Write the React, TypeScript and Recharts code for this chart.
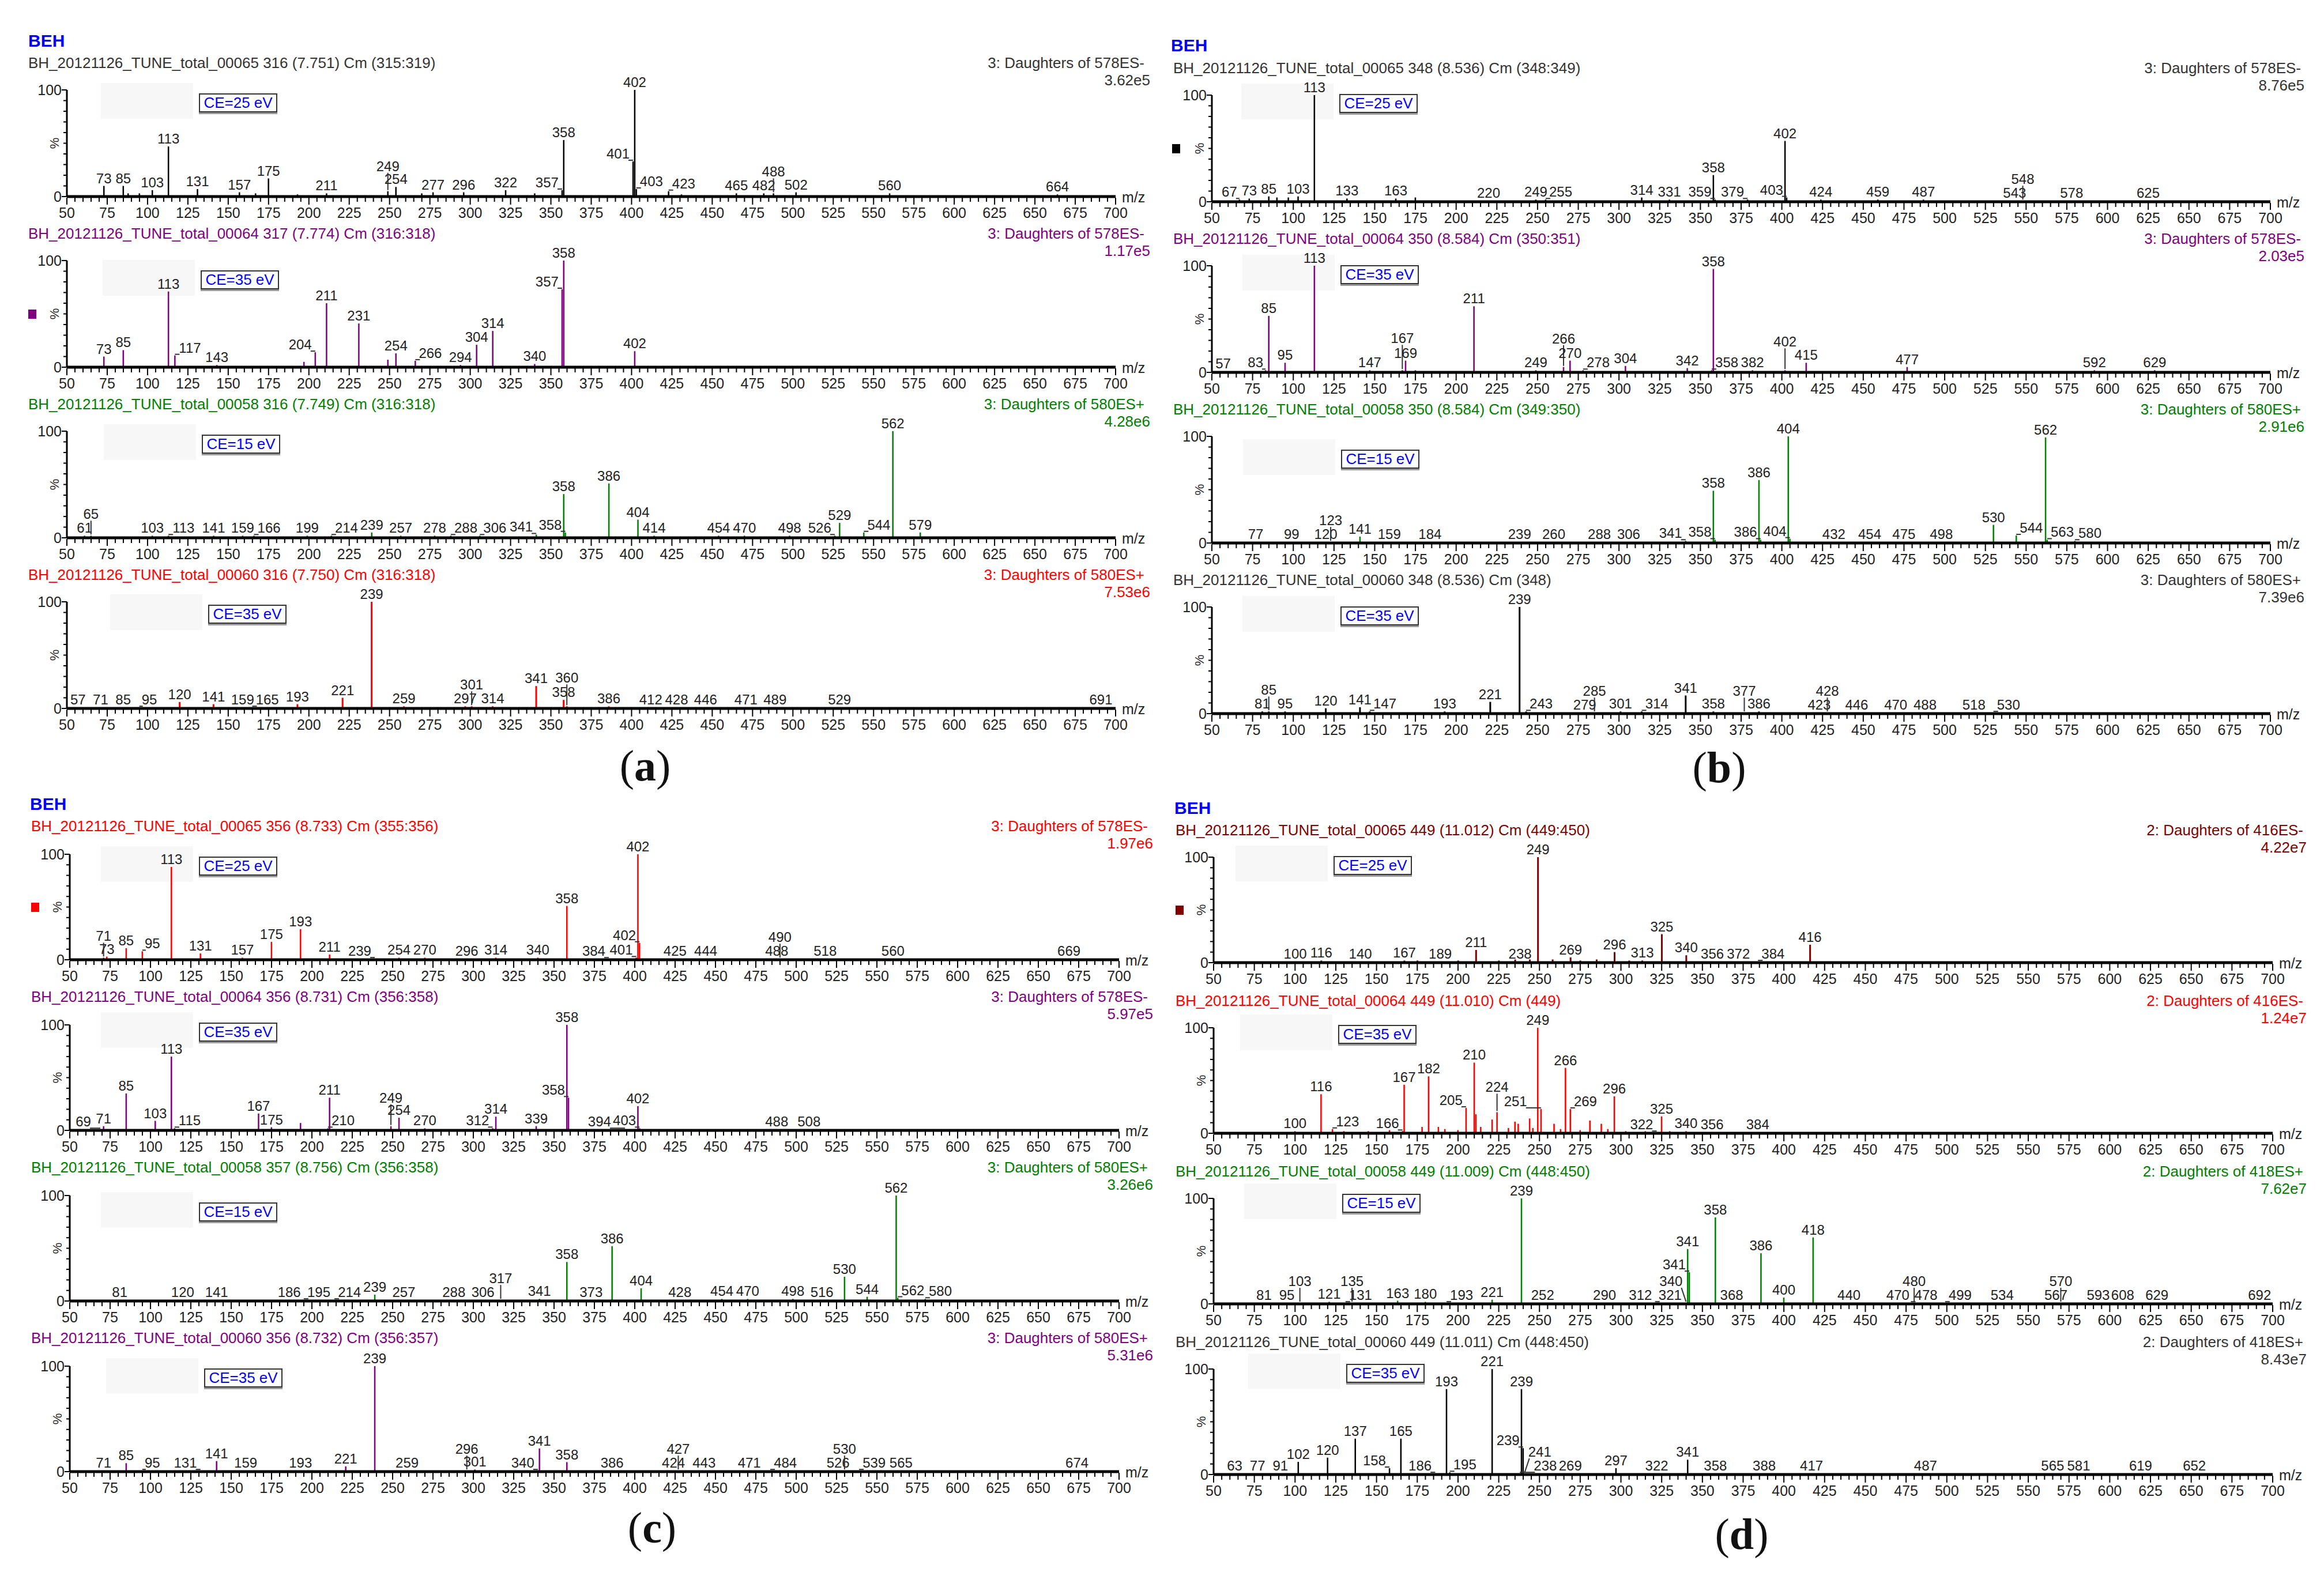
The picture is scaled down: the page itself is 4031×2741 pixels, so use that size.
import React from "react";
import { BarChart, Bar, XAxis, YAxis, LabelList } from "recharts";

// [m/z, relative intensity %, optional label ('' = unlabeled)]
type Peak = [number, number, string?];

const PEAKS_A1: Peak[] = [
  [73, 10], [85, 10], [88, 3, ""], [95, 3, ""], [103, 6], [113, 47], [131, 7], [157, 4], [167, 3, ""], [175, 17],
  [193, 2, ""], [211, 3], [249, 5], [254, 9], [270, 3, ""], [277, 4], [296, 4], [322, 6], [340, 3, ""], [357, 6],
  [358, 53], [401, 33], [402, 100], [403, 7], [423, 5], [431, 2, ""], [465, 3], [482, 3], [488, 3], [502, 4],
  [560, 3], [664, 2],
];
const PEAKS_A2: Peak[] = [
  [73, 10], [85, 16], [113, 71], [117, 11], [143, 2], [197, 5, ""], [204, 14], [211, 60], [231, 41], [249, 7, ""],
  [254, 13], [266, 6], [294, 2], [304, 21], [314, 34], [340, 3], [357, 73], [358, 100], [402, 15],
];
const PEAKS_A3: Peak[] = [
  [61, 2], [65, 2], [103, 2], [113, 2], [141, 2], [159, 2], [166, 2], [199, 2], [214, 2], [239, 5], [257, 2],
  [278, 2], [288, 2], [306, 2], [341, 3], [358, 41], [359, 5, "358"], [386, 51], [404, 17], [414, 2], [454, 2],
  [470, 2], [498, 2], [526, 2], [529, 14], [544, 5], [562, 100], [579, 5],
];
const PEAKS_A4: Peak[] = [
  [57, 1], [71, 1], [85, 1], [95, 1], [120, 6], [141, 4], [159, 1], [165, 1], [193, 4], [221, 10], [239, 100],
  [259, 2], [297, 2], [301, 2], [314, 2], [341, 21], [358, 8], [360, 2], [386, 2], [412, 1], [428, 1], [446, 1],
  [471, 1], [489, 1], [529, 1], [691, 1],
];

const PEAKS_B1: Peak[] = [
  [67, 2], [73, 3], [85, 5], [90, 4, ""], [97, 4, ""], [103, 5], [113, 100], [133, 3], [163, 3], [175, 4, ""],
  [220, 1], [249, 2], [255, 2], [314, 4], [331, 2], [358, 25], [359, 2], [379, 2], [402, 57], [403, 4], [424, 2],
  [459, 2], [487, 2], [543, 1], [548, 1], [578, 1], [625, 1],
];
const PEAKS_B2: Peak[] = [
  [57, 1], [83, 2], [85, 53], [95, 9], [113, 100], [147, 2], [167, 2], [169, 11], [175, 2, ""], [211, 62],
  [249, 2], [266, 5], [270, 11], [278, 2], [304, 6], [342, 4], [357, 2, "358"], [358, 97], [382, 2], [402, 2],
  [415, 9], [477, 5], [592, 2], [629, 2],
];
const PEAKS_B3: Peak[] = [
  [77, 1], [99, 1], [120, 1], [123, 1], [141, 6], [159, 1], [184, 1], [239, 1], [260, 1], [288, 1], [306, 1],
  [341, 2], [358, 49], [359, 3, "358"], [386, 59], [387, 3, "386"], [404, 100], [405, 4, "404"], [432, 1],
  [454, 1], [475, 1], [498, 1], [530, 17], [544, 7], [562, 99], [563, 3], [580, 2],
];
const PEAKS_B4: Peak[] = [
  [81, 2], [85, 2], [95, 2], [120, 5], [141, 6], [147, 2], [193, 2], [221, 11], [239, 100], [243, 2], [279, 1],
  [285, 1], [301, 2], [314, 2], [341, 17], [358, 2], [377, 1], [386, 2], [423, 1], [428, 1], [446, 1], [470, 1],
  [488, 1], [518, 1], [530, 1],
];

const PEAKS_C1: Peak[] = [
  [71, 2], [73, 3], [85, 11], [95, 8], [113, 88], [131, 6], [157, 2], [175, 17], [193, 29], [211, 5], [239, 1],
  [254, 2], [270, 2], [296, 1], [314, 2], [340, 2], [358, 51], [384, 1], [401, 2], [402, 100], [403, 16, "402"],
  [425, 1], [444, 1], [488, 1], [490, 1], [518, 1], [560, 1], [669, 1],
];
const PEAKS_C2: Peak[] = [
  [69, 1], [71, 4], [85, 35], [103, 9], [113, 70], [115, 2], [167, 16], [175, 3], [193, 7, ""], [210, 2],
  [211, 31], [249, 4], [254, 12], [270, 2], [312, 2], [314, 13], [339, 4], [358, 100], [359, 31, "358"],
  [394, 1], [402, 23], [403, 2], [488, 1], [508, 1],
];
const PEAKS_C3: Peak[] = [
  [81, 1], [120, 1], [141, 1], [186, 1], [195, 1], [214, 1], [239, 6], [257, 1], [288, 1], [306, 1], [317, 1],
  [341, 2], [358, 37], [373, 1], [386, 52], [404, 12], [428, 1], [454, 2], [470, 2], [498, 2], [516, 1],
  [530, 23], [544, 4], [562, 100], [563, 3, "562"], [580, 2],
];
const PEAKS_C4: Peak[] = [
  [71, 1], [85, 8], [95, 1], [131, 1], [141, 10], [159, 1], [193, 1], [221, 5], [239, 100], [259, 1], [296, 1],
  [301, 2], [340, 1], [341, 22], [358, 9], [386, 1], [424, 1], [427, 1], [443, 1], [471, 1], [484, 1], [526, 1],
  [530, 1], [539, 1], [565, 1], [674, 1],
];

const PEAKS_D1: Peak[] = [
  [100, 1], [116, 2], [140, 1], [167, 2], [175, 2, ""], [189, 1], [200, 2, ""], [211, 12], [225, 2, ""],
  [235, 3, ""], [238, 1], [244, 3, ""], [249, 100], [258, 3, ""], [269, 5], [275, 2, ""], [285, 3, ""], [296, 10],
  [305, 2, ""], [313, 2], [325, 27], [340, 7], [356, 1], [372, 1], [384, 1], [416, 17],
];
const PEAKS_D2: Peak[] = [
  [100, 2], [116, 37], [123, 4], [130, 2, ""], [145, 2, ""], [158, 3, ""], [166, 2], [167, 46], [178, 6, ""],
  [182, 54], [188, 6, ""], [192, 4, ""], [200, 3, ""], [205, 24], [210, 67], [211, 18, ""], [214, 6, ""],
  [221, 13, ""], [224, 20], [231, 5, ""], [235, 11, ""], [237, 9, ""], [244, 14, ""], [246, 5, ""], [249, 100],
  [251, 23], [259, 9, ""], [263, 4, ""], [266, 62], [269, 23], [275, 3, ""], [281, 12, ""], [288, 9, ""],
  [292, 4, ""], [296, 35], [303, 2, ""], [315, 2, ""], [322, 1], [325, 16], [330, 2, ""], [340, 2], [356, 1],
  [384, 1],
];
const PEAKS_D3: Peak[] = [
  [81, 1], [95, 1], [103, 1], [121, 2], [131, 1], [135, 1], [163, 3], [180, 2], [193, 1], [221, 4], [239, 100],
  [252, 1], [290, 1], [312, 1], [321, 1], [340, 1], [341, 52], [342, 30, "341"], [358, 82], [368, 1], [386, 48],
  [400, 6], [418, 63], [440, 1], [470, 1], [478, 1], [480, 1], [499, 1], [534, 1], [567, 1], [570, 1], [593, 1],
  [608, 1], [629, 1], [692, 1],
];
const PEAKS_D4: Peak[] = [
  [63, 1], [77, 1], [91, 1], [102, 12], [120, 16], [137, 34], [158, 6], [165, 34], [186, 1], [193, 81], [195, 2],
  [221, 100], [238, 1], [239, 81], [240, 25, "239"], [241, 1], [269, 1], [297, 6], [322, 1], [341, 14], [358, 1],
  [388, 1], [417, 1], [487, 1], [565, 1], [581, 1], [619, 1], [652, 1],
];

const FILES_A = [
  "BH_20121126_TUNE_total_00065 316 (7.751) Cm (315:319)",
  "BH_20121126_TUNE_total_00064 317 (7.774) Cm (316:318)",
  "BH_20121126_TUNE_total_00058 316 (7.749) Cm (316:318)",
  "BH_20121126_TUNE_total_00060 316 (7.750) Cm (316:318)",
];
const FILES_B = [
  "BH_20121126_TUNE_total_00065 348 (8.536) Cm (348:349)",
  "BH_20121126_TUNE_total_00064 350 (8.584) Cm (350:351)",
  "BH_20121126_TUNE_total_00058 350 (8.584) Cm (349:350)",
  "BH_20121126_TUNE_total_00060 348 (8.536) Cm (348)",
];
const FILES_C = [
  "BH_20121126_TUNE_total_00065 356 (8.733) Cm (355:356)",
  "BH_20121126_TUNE_total_00064 356 (8.731) Cm (356:358)",
  "BH_20121126_TUNE_total_00058 357 (8.756) Cm (356:358)",
  "BH_20121126_TUNE_total_00060 356 (8.732) Cm (356:357)",
];
const FILES_D = [
  "BH_20121126_TUNE_total_00065 449 (11.012) Cm (449:450)",
  "BH_20121126_TUNE_total_00064 449 (11.010) Cm (449)",
  "BH_20121126_TUNE_total_00058 449 (11.009) Cm (448:450)",
  "BH_20121126_TUNE_total_00060 449 (11.011) Cm (448:450)",
];

const DAUGHTERS_ABC = [
  "3: Daughters of 578ES-", "3: Daughters of 578ES-", "3: Daughters of 580ES+", "3: Daughters of 580ES+",
];
const DAUGHTERS_D = [
  "2: Daughters of 416ES-", "2: Daughters of 416ES-", "2: Daughters of 418ES+", "2: Daughters of 418ES+",
];

const SCALES_A = ["3.62e5", "1.17e5", "4.28e6", "7.53e6"];
const SCALES_B = ["8.76e5", "2.03e5", "2.91e6", "7.39e6"];
const SCALES_C = ["1.97e6", "5.97e5", "3.26e6", "5.31e6"];
const SCALES_D = ["4.22e7", "1.24e7", "7.62e7", "8.43e7"];

const CE_LEVELS = ["CE=25 eV", "CE=35 eV", "CE=15 eV", "CE=35 eV"];

const X_TICKS: number[] = [];
for (let v = 50; v <= 700; v += 5) X_TICKS.push(v);
const Y_TICKS = [0, 10, 20, 30, 40, 50, 60, 70, 80, 90, 100];

const FONT = "'Liberation Sans', Arial, sans-serif";
const STEP = 296;
const ML = 90, MR = 90, MT = 70, MB = 50;
const CE_W = 136, CE_H = 33;
const LBL_FS = 24, LBL_H = 20, DIGIT_W = 13.4;

const PANELS = [
  {
    letter: "a", lx: 1119, ly: 1328, bx: 49, by: 56,
    x0: 116, x1: 1935, titleY: 109, y100: 156, y0: 341, tl: 49, tr: 1985, sr: 1995,
    files: FILES_A, daughters: DAUGHTERS_ABC, scales: SCALES_A,
    peaks: [PEAKS_A1, PEAKS_A2, PEAKS_A3, PEAKS_A4],
    text: ["#333", "#800080", "#008000", "#ff0000"],
    bars: ["#000", "#800080", "#008000", "#ff0000"],
    ce: [[229, 6], [232, 17], [234, 6], [245, 5]],
    marker: 1, markerColor: "#800080", mx: 49,
  },
  {
    letter: "b", lx: 2982, ly: 1331, bx: 2031, by: 64,
    x0: 2102, x1: 3938, titleY: 118, y100: 165, y0: 350, tl: 2035, tr: 3991, sr: 3997,
    files: FILES_B, daughters: DAUGHTERS_ABC, scales: SCALES_B,
    peaks: [PEAKS_B1, PEAKS_B2, PEAKS_B3, PEAKS_B4],
    text: ["#333", "#800080", "#008000", "#333"],
    bars: ["#000", "#800080", "#008000", "#000"],
    ce: [[221, -2], [223, -1], [224, 23], [223, -1]],
    marker: 0, markerColor: "#000", mx: 2033,
  },
  {
    letter: "c", lx: 1131, ly: 2650, bx: 52, by: 1380,
    x0: 121, x1: 1941, titleY: 1433, y100: 1482, y0: 1665, tl: 54, tr: 1991, sr: 2000,
    files: FILES_C, daughters: DAUGHTERS_ABC, scales: SCALES_C,
    peaks: [PEAKS_C1, PEAKS_C2, PEAKS_C3, PEAKS_C4],
    text: ["#ff0000", "#800080", "#008000", "#800080"],
    bars: ["#ff0000", "#800080", "#008000", "#800080"],
    ce: [[224, 4], [224, -4], [224, 12], [233, 4]],
    marker: 0, markerColor: "#ff0000", mx: 54,
  },
  {
    letter: "d", lx: 3021, ly: 2661, bx: 2037, by: 1387,
    x0: 2105, x1: 3942, titleY: 1440, y100: 1487, y0: 1670, tl: 2039, tr: 3995, sr: 4001,
    files: FILES_D, daughters: DAUGHTERS_D, scales: SCALES_D,
    peaks: [PEAKS_D1, PEAKS_D2, PEAKS_D3, PEAKS_D4],
    text: ["#800000", "#ff0000", "#008000", "#333"],
    bars: ["#800000", "#ff0000", "#008000", "#000"],
    ce: [[208, -2], [216, -5], [223, -8], [230, -9]],
    marker: 0, markerColor: "#800000", mx: 2039,
  },
];

const XTick = (props: any) => {
  const { x, y, payload } = props;
  const v = payload.value;
  const major = v % 25 === 0;
  return (
    <g>
      <line x1={x} x2={x} y1={y + 2} y2={y + (major ? 14 : 9)} stroke="#000" strokeWidth={2} />
      {major && (
        <text x={x} y={y + 37} textAnchor="middle" fontSize={25} fill="#222" fontFamily={FONT}>
          {v}
        </text>
      )}
      {v === 700 && (
        <text x={x + 11} y={y + 10} fontSize={25} fill="#222" fontFamily={FONT}>
          m/z
        </text>
      )}
    </g>
  );
};

const YTick = (props: any) => {
  const { x, y, payload } = props;
  const v = payload.value;
  const end = v === 0 || v === 100;
  return (
    <g>
      <line x1={x - (end ? 9 : 6)} x2={x} y1={y} y2={y} stroke="#000" strokeWidth={2} />
      {end && (
        <text x={x - 9} y={y + 9} textAnchor="end" fontSize={25} fill="#222" fontFamily={FONT}>
          {v}
        </text>
      )}
      {v === 50 && (
        <text x={x - 14} y={y} textAnchor="middle" fontSize={22} fill="#222" fontFamily={FONT}
          transform={`rotate(-90 ${x - 14} ${y})`}>
          %
        </text>
      )}
    </g>
  );
};

type Place = { text: string; dx: number; dy: number };

// simple collision avoidance for peak labels, in chart pixel space
function placeLabels(data: any[], plotW: number, plotH: number, ceBox: number[]): Place[] {
  const px = (mz: number) => ML + ((mz - 50) / 650) * plotW;
  const py = (pct: number) => MT + (1 - pct / 100) * plotH;
  const placed: number[][] = [ceBox];
  const out: Place[] = data.map((d) => ({ text: d.label, dx: 0, dy: 0 }));
  const order = data
    .map((d, i) => i)
    .filter((i) => data[i].label)
    .sort((a, b) => data[b].pct - data[a].pct || data[a].mz - data[b].mz);
  const cands: number[][] = [];
  for (let dy = 0; dy <= 140; dy += 6) {
    for (const f of [0, -0.65, 0.65, -1.1, 1.1]) cands.push([f, dy]);
  }
  const hits = (b: number[], r: number[]) => b[0] < r[2] && b[2] > r[0] && b[1] < r[3] && b[3] > r[1];
  for (const i of order) {
    const d = data[i];
    const w = d.label.length * DIGIT_W;
    const cx = px(d.mz);
    const bottom = py(d.pct) - 5;
    const scored = cands
      .map(([f, dy]) => ({ dx: f * w, dy, cost: dy + Math.abs(f * w) * 0.9 }))
      .sort((a, b) => a.cost - b.cost);
    let best = scored[0];
    for (const c of scored) {
      const box = [cx + c.dx - w / 2 - 1, bottom - c.dy - LBL_H, cx + c.dx + w / 2 + 1, bottom - c.dy];
      if (box[1] < 2 || box[0] < ML - 30 || box[2] > ML + plotW + 30) continue;
      if (placed.some((r) => hits(box, r))) continue;
      const barHit = data.some(
        (o, j) => j !== i && o.pct >= 3 && px(o.mz) > box[0] - 1 && px(o.mz) < box[2] + 1 && py(o.pct) < box[3]
      );
      if (barHit) continue;
      best = c;
      break;
    }
    placed.push([cx + best.dx - w / 2 - 1, bottom - best.dy - LBL_H, cx + best.dx + w / 2 + 1, bottom - best.dy]);
    out[i] = { text: d.label, dx: best.dx, dy: best.dy };
  }
  return out;
}

function Spectrum({ peaks, color, x0, x1, y100, y0, ce }: any) {
  const data = peaks.map(([mz, pct, label]: Peak, i: number) => ({
    mz, pct, li: i, label: label === undefined ? String(mz) : label,
  }));
  const plotW = x1 - x0;
  const plotH = y0 - y100;
  const W = plotW + ML + MR;
  const H = plotH + MT + MB;
  const ceBox = [ML + ce[0] - 2, MT + ce[1] - 2, ML + ce[0] + CE_W + 2, MT + ce[1] + CE_H + 5];
  const places = placeLabels(data, plotW, plotH, ceBox);

  const PeakLabel = (props: any) => {
    const { x, y, width, value } = props;
    const p = places[value];
    if (!p || !p.text) return null;
    const cx = x + width / 2;
    const lx = cx + p.dx;
    const ly = y - 5 - p.dy;
    const moved = Math.abs(p.dx) > 1 || p.dy > 8;
    const w = p.text.length * DIGIT_W;
    let sx = lx;
    if (p.dx < -1) sx = lx + w / 2 - 2;
    if (p.dx > 1) sx = lx - w / 2 + 2;
    return (
      <g>
        {moved && <line x1={sx} y1={ly + 3} x2={cx} y2={y - 2} stroke="#333" strokeWidth={2} />}
        <text x={lx} y={ly} textAnchor="middle" fontSize={LBL_FS} fill="#222" fontFamily={FONT}>
          {p.text}
        </text>
      </g>
    );
  };

  return (
    <div style={{ position: "absolute", left: x0 - ML, top: y100 - MT, width: W, height: H }}>
      <BarChart width={W} height={H} data={data} barSize={3}
        margin={{ top: MT, right: MR, left: 10, bottom: 0 }}>
        <XAxis type="number" dataKey="mz" domain={[50, 700]} ticks={X_TICKS} interval={0}
          allowDataOverflow height={MB} tickLine={false} tickSize={0} tickMargin={0}
          axisLine={{ stroke: "#000", strokeWidth: 5 }} tick={<XTick />} />
        <YAxis type="number" domain={[0, 100]} ticks={Y_TICKS} interval={0} width={80}
          tickLine={false} tickSize={0} tickMargin={0}
          axisLine={{ stroke: "#000", strokeWidth: 3 }} tick={<YTick />} />
        <Bar dataKey="pct" fill={color} isAnimationActive={false}>
          <LabelList dataKey="li" content={<PeakLabel />} />
        </Bar>
      </BarChart>
    </div>
  );
}

const abs = (s: React.CSSProperties): React.CSSProperties => ({ position: "absolute", whiteSpace: "nowrap", ...s });

export default function App() {
  return (
    <div style={{ position: "absolute", left: 0, top: 0, width: 4031, height: 2741, background: "#fff", fontFamily: FONT, overflow: "hidden" }}>
      {PANELS.map((p, pi) => (
        <React.Fragment key={pi}>
          <div style={abs({ left: p.bx, top: p.by, fontSize: 30, fontWeight: "bold", color: "#0000ff", lineHeight: "30px" })}>BEH</div>
          {[0, 1, 2, 3].map((k) => {
            const off = k * STEP;
            const ty = p.titleY + off;
            const cx = p.x0 + p.ce[k][0];
            const cy = p.y100 + off + p.ce[k][1];
            return (
              <React.Fragment key={k}>
                <div style={abs({ left: cx - 170, top: cy - 18, width: 160, height: 62, background: "#f7f7f7" })} />
                <div style={abs({
                  left: cx, top: cy, width: CE_W - 4, height: CE_H - 4, border: "2px solid #333", boxShadow: "0 3px 0 #999",
                  background: "#fff", color: "#0000ff", fontSize: 26, lineHeight: `${CE_H - 4}px`, textAlign: "center",
                })}>{CE_LEVELS[k]}</div>
                <div style={abs({ left: p.tl, top: ty - 15, fontSize: 26, lineHeight: "30px", color: p.text[k] })}>{p.files[k]}</div>
                <div style={abs({ right: 4031 - p.tr, top: ty - 15, fontSize: 26, lineHeight: "30px", color: p.text[k] })}>{p.daughters[k]}</div>
                <div style={abs({ right: 4031 - p.sr, top: ty + 15, fontSize: 26, lineHeight: "30px", color: p.text[k] })}>{p.scales[k]}</div>
                <Spectrum peaks={p.peaks[k]} color={p.bars[k]} x0={p.x0} x1={p.x1}
                  y100={p.y100 + off} y0={p.y0 + off} ce={p.ce[k]} />
                {k === p.marker && (
                  <div style={abs({ left: p.mx, top: (p.y100 + p.y0) / 2 + off - 8, width: 14, height: 16, background: p.markerColor })} />
                )}
              </React.Fragment>
            );
          })}
          <div style={abs({ left: p.lx - 80, top: p.ly - 45, width: 160, textAlign: "center", fontFamily: "'Liberation Serif', 'Times New Roman', serif", fontSize: 76, lineHeight: "90px", color: "#111" })}>
            (<b>{p.letter}</b>)
          </div>
        </React.Fragment>
      ))}
    </div>
  );
}
